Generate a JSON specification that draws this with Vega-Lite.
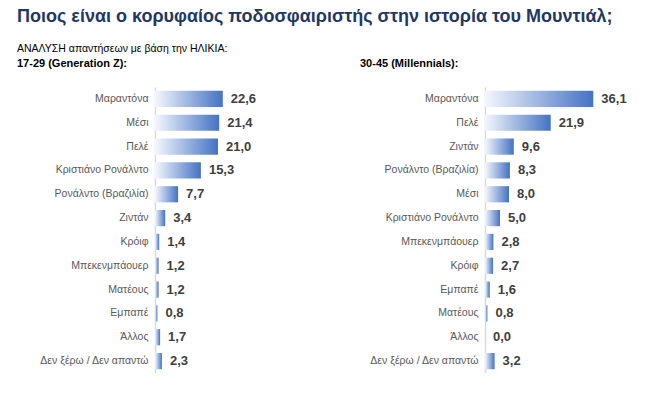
{
  "$schema": "https://vega.github.io/schema/vega-lite/v6.json",
  "background": "white",
  "padding": {"left": 17, "top": 7, "right": 0, "bottom": 0},
  "config": {
    "view": {"stroke": null},
    "locale": {"number": {"decimal": ",", "thousands": ".", "grouping": [3], "currency": ["", "€"]}},
    "font": "Liberation Sans Narrow, Liberation Sans, sans-serif"
  },
  "title": {
    "text": "Ποιος είναι ο κορυφαίος ποδοσφαιριστής στην ιστορία του Μουντιάλ;",
    "subtitle": "ΑΝΑΛΥΣΗ απαντήσεων με βάση την ΗΛΙΚΙΑ:",
    "anchor": "start",
    "frame": "bounds",
    "font": "Liberation Sans Narrow, Liberation Sans, sans-serif",
    "fontSize": 18,
    "fontWeight": "bold",
    "color": "#1F3864",
    "subtitleFont": "Liberation Sans Narrow, Liberation Sans, sans-serif",
    "subtitleFontSize": 10.5,
    "subtitleColor": "#000000",
    "subtitlePadding": 18,
    "offset": 4
  },
  "datasets": {
    "gz": [
      {"name": "Μαραντόνα", "value": 22.6},
      {"name": "Μέσι", "value": 21.4},
      {"name": "Πελέ", "value": 21.0},
      {"name": "Κριστιάνο Ρονάλντο", "value": 15.3},
      {"name": "Ρονάλντο (Βραζιλία)", "value": 7.7},
      {"name": "Ζιντάν", "value": 3.4},
      {"name": "Κρόιφ", "value": 1.4},
      {"name": "Μπεκενμπάουερ", "value": 1.2},
      {"name": "Ματέους", "value": 1.2},
      {"name": "Εμπαπέ", "value": 0.8},
      {"name": "Άλλος", "value": 1.7},
      {"name": "Δεν ξέρω / Δεν απαντώ", "value": 2.3}
    ],
    "mil": [
      {"name": "Μαραντόνα", "value": 36.1},
      {"name": "Πελέ", "value": 21.9},
      {"name": "Ζιντάν", "value": 9.6},
      {"name": "Ρονάλντο (Βραζιλία)", "value": 8.3},
      {"name": "Μέσι", "value": 8.0},
      {"name": "Κριστιάνο Ρονάλντο", "value": 5.0},
      {"name": "Μπεκενμπάουερ", "value": 2.8},
      {"name": "Κρόιφ", "value": 2.7},
      {"name": "Εμπαπέ", "value": 1.6},
      {"name": "Ματέους", "value": 0.8},
      {"name": "Άλλος", "value": 0.0},
      {"name": "Δεν ξέρω / Δεν απαντώ", "value": 3.2}
    ]
  },
  "spacing": 90,
  "hconcat": [
    {
      "width": 110,
      "height": 286,
      "data": {"name": "gz"},
      "title": {
        "text": "17-29 (Generation Z):",
        "anchor": "start",
        "frame": "group",
        "dx": -138,
        "fontSize": 11,
        "fontWeight": "bold",
        "color": "#000000",
        "offset": 18
      },
      "encoding": {
        "y": {
          "field": "name", "type": "nominal", "sort": null,
          "scale": {"paddingInner": 0.32, "paddingOuter": 0.16},
          "axis": {"title": null, "ticks": false, "domainColor": "#D9D9D9", "domainWidth": 1.5, "labelColor": "#595959", "labelFontSize": 10.5, "labelPadding": 7, "minExtent": 130, "maxExtent": 130}
        },
        "x": {"field": "value", "type": "quantitative", "scale": {"domain": [0, 36.67]}, "axis": null}
      },
      "layer": [
        {"mark": {"type": "bar", "color": {"gradient": "linear", "x1": 0, "y1": 0, "x2": 1, "y2": 0, "stops": [{"offset": 0, "color": "#F4F7FC"}, {"offset": 1, "color": "#4472C4"}]}}},
        {"mark": {"type": "text", "align": "left", "dx": 8, "fontWeight": "bold", "fontSize": 13, "color": "#404040"}, "encoding": {"text": {"field": "value", "type": "quantitative", "format": ".1f"}}}
      ]
    },
    {
      "width": 160,
      "height": 286,
      "data": {"name": "mil"},
      "title": {
        "text": "30-45 (Millennials):",
        "anchor": "start",
        "frame": "group",
        "dx": -125,
        "fontSize": 11,
        "fontWeight": "bold",
        "color": "#000000",
        "offset": 18
      },
      "encoding": {
        "y": {
          "field": "name", "type": "nominal", "sort": null,
          "scale": {"paddingInner": 0.32, "paddingOuter": 0.16},
          "axis": {"title": null, "ticks": false, "domainColor": "#D9D9D9", "domainWidth": 1.5, "labelColor": "#595959", "labelFontSize": 10.5, "labelPadding": 7, "minExtent": 130, "maxExtent": 130}
        },
        "x": {"field": "value", "type": "quantitative", "scale": {"domain": [0, 53.33]}, "axis": null}
      },
      "layer": [
        {"mark": {"type": "bar", "color": {"gradient": "linear", "x1": 0, "y1": 0, "x2": 1, "y2": 0, "stops": [{"offset": 0, "color": "#F4F7FC"}, {"offset": 1, "color": "#4472C4"}]}}},
        {"mark": {"type": "text", "align": "left", "dx": 8, "fontWeight": "bold", "fontSize": 13, "color": "#404040"}, "encoding": {"text": {"field": "value", "type": "quantitative", "format": ".1f"}}}
      ]
    }
  ]
}
